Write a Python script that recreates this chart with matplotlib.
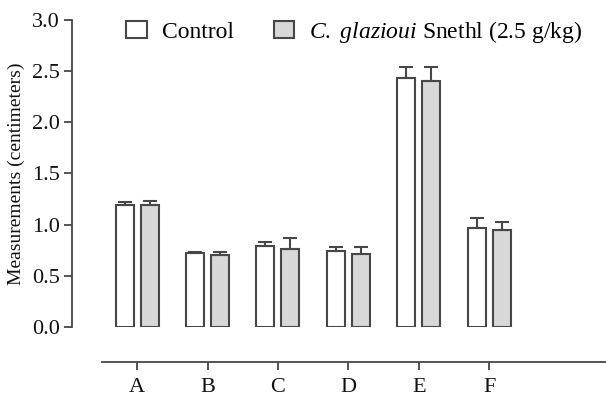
import numpy as np
import matplotlib.pyplot as plt
from matplotlib.patches import Patch

plt.rcParams['font.family'] = ['Liberation Serif', 'DejaVu Serif']
plt.rcParams['mathtext.fontset'] = 'custom'
plt.rcParams['mathtext.it'] = 'Liberation Serif:italic'
plt.rcParams['mathtext.rm'] = 'Liberation Serif'

categories = ["A", "B", "C", "D", "E", "F"]
control = [1.19, 0.72, 0.79, 0.74, 2.43, 0.97]
control_err = [0.03, 0.01, 0.04, 0.04, 0.11, 0.09]
treated = [1.19, 0.70, 0.76, 0.71, 2.40, 0.95]
treated_err = [0.04, 0.03, 0.11, 0.07, 0.14, 0.07]

edge = '#474747'
fig = plt.figure(figsize=(6.06, 4.05), dpi=100)
ax = fig.add_axes([0.119, 0.193, 0.881, 0.758])

x = np.arange(len(categories))
w = 0.255
off = 0.178
ax.bar(x - off, control, w, color='white', edgecolor=edge, linewidth=1.5,
       yerr=[np.zeros(6), control_err], error_kw=dict(ecolor=edge, elinewidth=1.5, capsize=5, capthick=1.5))
ax.bar(x + off, treated, w, color='#d8d8d8', edgecolor=edge, linewidth=1.5,
       yerr=[np.zeros(6), treated_err], error_kw=dict(ecolor=edge, elinewidth=1.5, capsize=5, capthick=1.5))

ax.set_xlim(-0.923, 6.66)
ax.set_ylim(0, 3.0)
ax.set_yticks(np.arange(0, 3.01, 0.5))
ax.set_yticklabels([f"{v:.1f}" for v in np.arange(0, 3.01, 0.5)])
ax.set_xticks(x)
ax.set_xticklabels(categories)

for s in ['top', 'right']:
    ax.spines[s].set_visible(False)
ax.spines['left'].set_color(edge)
ax.spines['left'].set_linewidth(1.3)
ax.spines['bottom'].set_position(('outward', 25))
ax.spines['bottom'].set_bounds(-0.5, 6.66)
ax.spines['bottom'].set_color(edge)
ax.spines['bottom'].set_linewidth(1.3)
ax.tick_params(axis='both', colors=edge, width=1.3, length=6, labelsize=16, labelcolor='#111111')
ax.tick_params(axis='x', pad=6)
ax.tick_params(axis='y', pad=3)

ax.set_ylabel("Measurements (centimeters)", fontsize=14, color='#111111', labelpad=5)

handles = [Patch(facecolor='white', edgecolor=edge, linewidth=1.5),
           Patch(facecolor='#d8d8d8', edgecolor=edge, linewidth=1.5)]
labels = ["Control", r"$\mathit{C.}$ $\mathit{glazioui}$ Snethl (2.5 g/kg)"]
ax.legend(handles, labels, ncol=2, frameon=False, loc='upper left',
          bbox_to_anchor=(0.062, 1.073), fontsize=17, handlelength=0.85,
          handleheight=0.68, columnspacing=1.7, handletextpad=0.65)

fig.savefig("out.png", dpi=100)
